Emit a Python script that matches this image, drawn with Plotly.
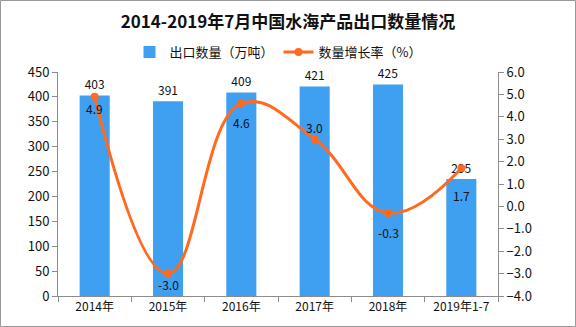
import plotly.graph_objects as go

categories = ["2014年", "2015年", "2016年", "2017年", "2018年", "2019年1-7"]
export_volume = [403, 391, 409, 421, 425, 235]
growth_rate = [4.9, -3.0, 4.6, 3.0, -0.3, 1.7]
growth_label_shift = [-12, -11, -19, 12, -19, -27]

BAR = "#3f9ff0"
LINE = "#ff6a1f"
AXIS = "#8c8c8c"
FONT = "Noto Sans CJK SC, DejaVu Sans, sans-serif"

W, H = 576, 327
ml, mr, mt, mb = 58, 78, 72, 31
pw, ph = W - ml - mr, H - mt - mb

fig = go.Figure()
fig.add_trace(go.Bar(
    x=categories, y=export_volume, name="出口数量（万吨）",
    marker=dict(color=BAR, line=dict(width=0)),
    text=[str(v) for v in export_volume], textposition="outside",
    textfont=dict(size=12, color="#111", family=FONT),
    cliponaxis=False,
))
fig.add_trace(go.Scatter(
    x=categories, y=growth_rate, name="数量增长率（%）", yaxis="y2",
    mode="lines+markers",
    line=dict(color=LINE, width=3, shape="spline", smoothing=1.2),
    marker=dict(color=LINE, size=8),
    cliponaxis=False,
))

annotations = [
    dict(x=c, y=v, xref="x", yref="y2", text=f"{v:.1f}", showarrow=False,
         yshift=s, font=dict(size=12, color="#111", family=FONT))
    for c, v, s in zip(categories, growth_rate, growth_label_shift)
]

fig.update_layout(
    width=W, height=H,
    margin=dict(l=ml, r=mr, t=mt, b=mb),
    paper_bgcolor="white", plot_bgcolor="white",
    font=dict(family=FONT, size=12, color="#111"),
    title=dict(text="<b>2014-2019年7月中国水海产品出口数量情况</b>",
               x=0.5, xanchor="center", y=1 - 22 / H, yanchor="middle",
               font=dict(size=17, color="#111", family=FONT)),
    bargap=0.59,
    showlegend=True,
    legend=dict(orientation="h", x=0.5, xanchor="center", y=1 + 20 / ph, yanchor="middle",
                font=dict(size=13, family=FONT), bgcolor="rgba(0,0,0,0)",
                itemwidth=30, tracegroupgap=0),
    xaxis=dict(type="category", showline=True, linecolor=AXIS, linewidth=1,
               ticks="outside", tickson="boundaries", ticklen=5, tickcolor=AXIS,
               showgrid=False, tickfont=dict(size=12, family=FONT)),
    yaxis=dict(range=[0, 450], dtick=50, showline=True, linecolor=AXIS, linewidth=1,
               ticks="outside", ticklen=5, tickcolor=AXIS, showgrid=False, zeroline=False,
               tickfont=dict(size=13, family=FONT)),
    yaxis2=dict(range=[-4, 6], dtick=1, tickformat=".1f", overlaying="y", side="right",
                showline=True, linecolor=AXIS, linewidth=1, ticks="outside", ticklen=5,
                tickcolor=AXIS, showgrid=False, zeroline=False,
                tickfont=dict(size=13, family=FONT)),
    annotations=annotations,
    shapes=[dict(type="rect", xref="paper", yref="paper",
                 x0=-ml / pw + 0.5 / pw, x1=1 + (mr - 0.5) / pw,
                 y0=-mb / ph + 0.5 / ph, y1=1 + (mt - 0.5) / ph,
                 line=dict(color="#999", width=1), layer="below")],
)

fig.write_html("out.html")
